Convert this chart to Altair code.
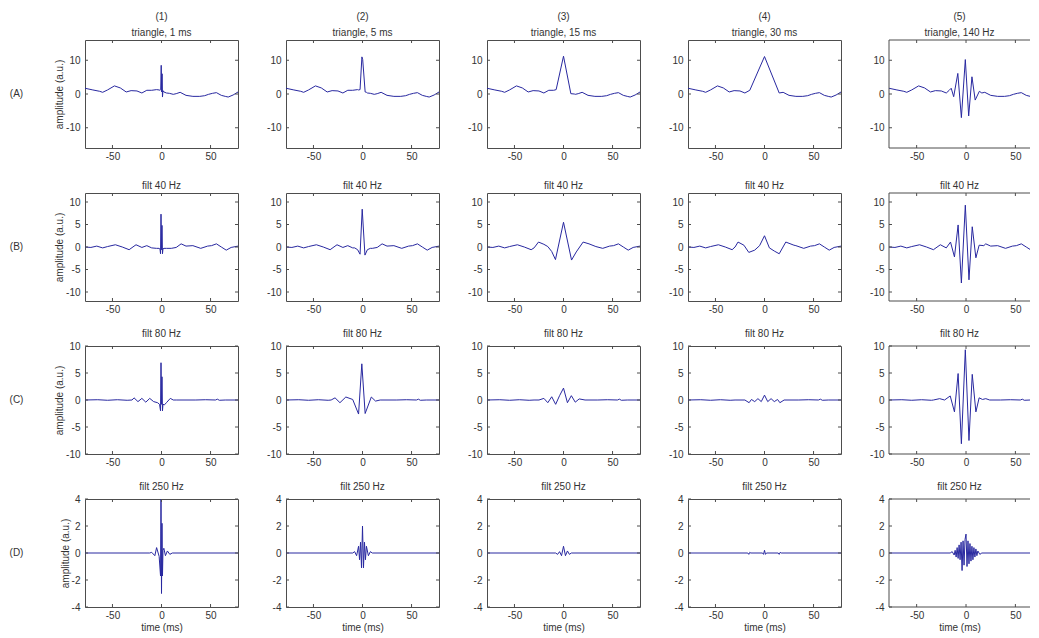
import altair as alt
import pandas as pd

# ---------------- text ----------------
ROW_NAMES = ["(A)", "(B)", "(C)", "(D)"]
COL_NAMES = ["(1)", "(2)", "(3)", "(4)", "(5)"]
ROW_A_TITLES = ["triangle, 1 ms", "triangle, 5 ms", "triangle, 15 ms", "triangle, 30 ms", "triangle, 140 Hz"]
ROW_TITLES = ["", "filt 40 Hz", "filt 80 Hz", "filt 250 Hz"]
Y_TITLE = "amplitude (a.u.)"
X_TITLE = "time (ms)"

# ---------------- axes ----------------
X_DOMAIN = [-78, 78]
X_DOMAIN_LAST = [-78, 64.8]   # last column is cut by the figure edge
X_TICKS = [-50, 0, 50]
Y_DOMAINS = [[-16, 16], [-12, 12], [-10, 10], [-4, 4]]
Y_TICKS = [[-10, 0, 10], [-10, -5, 0, 5, 10], [-10, -5, 0, 5, 10], [-4, -2, 0, 2, 4]]

# ---------------- row A: raw signal + triangle ----------------
BG_A_T = [-78, -70, -63, -60, -55, -48, -42, -36, -31, -25, -20, -15, -10, -5, 5, 8, 12, 15, 19, 25, 32, 39, 44, 48, 52, 56, 61, 65, 68, 73, 78]
BG_A_V = [1.7, 1.2, 0.8, 0.5, 1.2, 2.4, 1.8, 0.6, 1.0, 0.9, 0.3, 1.1, 1.1, 1.3, 0.3, 0.2, -0.1, 0.1, 0.5, -0.4, -0.7, -0.7, -0.5, -0.1, 0.2, 0.4, -0.4, -0.7, -0.9, -0.3, 0.6]
A1_T = [-2.5, -1.5, -0.8, -0.3, 0.2, 0.6, 1.0, 1.5, 2.5]
A1_V = [1.2, 1.1, 1.3, 8.5, 0.6, 6.0, -0.9, 1.0, 0.6]
A2_T = [-4, -2.5, -0.6, 0.2, 2.7, 4]
A2_V = [1.2, 1.3, 11.0, 10.2, 0.6, 0.5]
A3_T = [-7.5, 0, 7.5, 11]
A3_V = [1.3, 11.2, 0.1, 0.0]
A4_T = [-15, 0, 15]
A4_V = [1.1, 11.1, 0.3]
A5_T = [-17, -15, -12.5, -8.3, -4.7, -0.7, 2.7, 6.0, 9.3, 13.5, 16]
A5_V = [1.1, 1.7, -0.8, 6.1, -7.0, 10.2, -6.5, 5.1, -1.8, 0.8, 0.3]

# ---------------- row B: 40 Hz ----------------
BG_B_T = [-78, -72, -66, -60, -55, -47, -40, -33, -26, -20, -15, -10, -5, 5, 10, 15, 20, 25, 32, 40, 47, 51, 56, 61, 66, 71, 78]
BG_B_V = [0.0, -0.1, 0.2, -0.2, 0.1, 0.5, 0.0, -0.6, 0.5, -0.1, 0.3, -0.2, -0.3, -0.3, -0.3, -0.1, 0.7, 0.2, 0.3, -0.3, 0.2, 0.3, 0.7, 0.0, -0.7, -0.1, 0.2]
B1_T = [-2.5, -1.5, -1.0, -0.5, 0.0, 0.5, 1.0, 1.5, 2.5]
B1_V = [-0.3, -0.5, -1.5, 7.3, -0.6, 4.8, -1.5, -0.4, -0.3]
B2_T = [-8, -5, -2.5, -0.3, 2.5, 5, 8]
B2_V = [-0.2, -0.6, -1.6, 8.4, -1.8, -0.6, -0.3]
B3_T = [-30, -25.5, -20, -16, -12, -8.2, 0, 8.2, 13, 20, 26, 33]
B3_V = [-0.2, 1.1, 0.6, 0.1, -1.0, -2.8, 5.5, -2.9, -1.1, 1.1, 0.7, 0.1]
B4_T = [-30, -27, -21, -16, -10, -5, 0, 5, 10, 15, 21.7, 30]
B4_V = [0.0, 1.1, 0.4, -1.2, -0.7, 0.3, 2.5, -0.2, -0.9, -1.5, 1.1, 0.4]
B5_T = [-20, -15.7, -11.7, -8, -4.7, -0.7, 3, 6.3, 10, 13.3, 18]
B5_V = [-0.2, 1.1, -2.2, 4.9, -8.0, 9.3, -7.3, 4.5, -2.4, 0.4, 0.3]

# ---------------- row C: 80 Hz ----------------
BG_C_T = [-78, -65, -55, -45, -35, -30, 35, 45, 55, 57, 59, 65, 78]
BG_C_V = [0.0, 0.05, -0.05, 0.05, -0.05, 0.0, 0.0, 0.05, 0.0, 0.15, -0.05, 0.0, 0.0]
C1_T = [-30, -28, -24, -20, -16, -12, -8, -4, -2, -1, -0.5, 0, 0.5, 1, 1.5, 3, 5, 9, 12, 15]
C1_V = [0, 0.4, -0.3, 0.3, -0.4, 0.3, -0.3, -0.5, -0.8, -2.0, 6.9, -0.8, 4.3, -2.0, -0.8, -0.9, -0.5, 0.3, 0, 0]
C2_T = [-32, -28, -23, -17, -10, -4, -0.7, 2.7, 9, 13.3, 18]
C2_V = [0, 0.4, -0.5, 0.55, 0.1, -2.6, 6.7, -2.5, 0.55, -0.2, 0]
C3_T = [-25, -20, -16, -12, -8, -4, 0, 4, 8, 12, 16, 22]
C3_V = [0, 0.3, -0.5, 0.6, -0.8, 0.8, 2.2, -0.5, 0.8, -0.4, 0.2, 0]
C4_T = [-20, -15.7, -13.3, -10, -6.7, -3.3, 0, 3.3, 6.7, 10, 13.3, 15.7, 20]
C4_V = [0, -0.5, 0.1, -0.3, 0.25, -0.3, 0.9, -0.3, 0.25, -0.3, 0.1, -0.5, 0]
C5_T = [-33, -26.7, -21.7, -16, -11.7, -8, -4.7, -0.7, 3, 6.3, 10, 13.3, 16.7, 20, 24]
C5_V = [0, 0.25, 0, 0.75, -2.2, 4.9, -8.1, 9.3, -7.5, 4.75, -2.2, 0.4, 0.1, 0.25, 0]

# ---------------- row D: 250 Hz ----------------
BG_D_T = [-78, 78]
BG_D_V = [0.0, 0.0]
D1_T = [-12, -10, -6.8, -5, -3.4, -2.4, -1, -0.5, 0, 0.5, 1, 1.5, 2.4, 4, 6, 8.5, 11]
D1_V = [0, 0.05, -0.2, 0.4, 0, -0.25, -1.7, 4.0, -3.0, 2.2, -1.7, 0.2, 0.35, -0.2, 0.15, -0.1, 0]
D2_T = [-10, -8, -6, -4, -3, -2, -1, 0, 1, 2, 3, 4, 6, 8, 10]
D2_V = [0, 0.1, -0.2, 0.5, -0.5, 0.8, -1.1, 2.0, -1.1, 0.8, -0.5, 0.5, -0.2, 0.1, 0]
D3_T = [-8, -6, -4, -2, 0, 2, 4, 6, 8]
D3_V = [0, -0.1, 0.1, -0.2, 0.5, -0.2, 0.15, -0.1, 0]
D4_T = [-17, -16, -15, -14, -2, -1, 0, 1, 2, 14, 15, 16, 17]
D4_V = [0, -0.1, 0.05, 0, 0, -0.1, 0.2, -0.1, 0, 0, -0.1, 0.05, 0]
D5_T = [-16, -14, -12, -11, -10, -9, -8, -7, -6, -5, -4, -3, -2, -1, 0, 1, 2, 3, 4, 5, 6, 7, 8, 9, 10, 11, 12, 14, 16]
D5_V = [0, 0.1, -0.15, 0.2, -0.3, 0.4, -0.4, 0.6, -0.5, 0.8, -1.3, 0.9, -0.9, 1.0, 1.4, -1.0, 0.9, -0.8, 0.7, -0.6, 0.5, -0.5, 0.4, -0.3, 0.3, -0.2, 0.15, -0.1, 0]

BACKGROUNDS = [(BG_A_T, BG_A_V), (BG_B_T, BG_B_V), (BG_C_T, BG_C_V), (BG_D_T, BG_D_V)]
CENTERS = [
    [(A1_T, A1_V), (A2_T, A2_V), (A3_T, A3_V), (A4_T, A4_V), (A5_T, A5_V)],
    [(B1_T, B1_V), (B2_T, B2_V), (B3_T, B3_V), (B4_T, B4_V), (B5_T, B5_V)],
    [(C1_T, C1_V), (C2_T, C2_V), (C3_T, C3_V), (C4_T, C4_V), (C5_T, C5_V)],
    [(D1_T, D1_V), (D2_T, D2_V), (D3_T, D3_V), (D4_T, D4_V), (D5_T, D5_V)],
]

# ---------------- style ----------------
W, H = 153, 108
W_LAST = 141
FONT = "Liberation Sans"
TEXT = "#333333"
FRAME = "#4d4d4d"
LINE = "#2828a0"
TICK_LEN = 3
LABEL_EXPR = "datum.value + ''"   # plain hyphen minus, as in the figure


def trace(bg, center):
    bt, bv = bg
    ct, cv = center
    lo, hi = min(ct), max(ct)
    pts = [(t, v) for t, v in zip(bt, bv) if t < lo]
    pts += list(zip(ct, cv))
    pts += [(t, v) for t, v in zip(bt, bv) if t > hi]
    return pd.DataFrame(pts, columns=["t", "v"])


def panel(r, c):
    last = c == 4
    w = W_LAST if last else W
    df = trace(BACKGROUNDS[r], CENTERS[r][c])
    xs = alt.Scale(domain=X_DOMAIN_LAST if last else X_DOMAIN, nice=False, zero=False)
    ys = alt.Scale(domain=Y_DOMAINS[r], nice=False, zero=False)

    xax = dict(values=X_TICKS, labelExpr=LABEL_EXPR, title=X_TITLE if r == 3 else "")
    yax = dict(values=Y_TICKS[r], labelExpr=LABEL_EXPR, title=Y_TITLE if c == 0 else "")
    X = lambda: alt.X("t:Q", scale=xs, axis=alt.Axis(**xax))
    Y = lambda: alt.Y("v:Q", scale=ys, axis=alt.Axis(**yax))

    line = alt.Chart(df).mark_line(color=LINE, strokeWidth=1, clip=True).encode(
        x=X(), y=Y(), order="t:Q")
    xt = pd.DataFrame({"t": X_TICKS})
    yt = pd.DataFrame({"v": Y_TICKS[r]})
    one = pd.DataFrame({"k": [0]})
    rule = dict(color=FRAME, strokeWidth=1)
    layers = [line]
    layers.append(alt.Chart(xt).mark_rule(**rule).encode(
        x=X(), y=alt.value(H), y2=alt.value(H - TICK_LEN)))
    layers.append(alt.Chart(xt).mark_rule(**rule).encode(
        x=X(), y=alt.value(0), y2=alt.value(TICK_LEN)))
    layers.append(alt.Chart(yt).mark_rule(**rule).encode(
        y=Y(), x=alt.value(0), x2=alt.value(TICK_LEN)))
    if not last:
        layers.append(alt.Chart(yt).mark_rule(**rule).encode(
            y=Y(), x=alt.value(w), x2=alt.value(w - TICK_LEN)))
    else:
        # frame drawn by hand: the right edge lies outside the figure
        layers.append(alt.Chart(one).mark_rule(**rule).encode(
            x=alt.value(0), x2=alt.value(w), y=alt.value(0)))
        layers.append(alt.Chart(one).mark_rule(**rule).encode(
            x=alt.value(0), x2=alt.value(w), y=alt.value(H)))
        layers.append(alt.Chart(one).mark_rule(**rule).encode(
            x=alt.value(0), y=alt.value(0), y2=alt.value(H)))
    if c == 0:
        layers.append(alt.Chart(pd.DataFrame({"lab": [ROW_NAMES[r]]})).mark_text(
            font=FONT, fontSize=10, color=TEXT, align="center", baseline="middle"
        ).encode(x=alt.value(-68.5), y=alt.value(H / 2), text="lab:N"))

    if r == 0:
        ttext = [COL_NAMES[c], ROW_A_TITLES[c]]
    else:
        ttext = ROW_TITLES[r]
    title = alt.TitleParams(text=ttext, font=FONT, fontSize=10, fontWeight="normal",
                            color=TEXT, anchor="middle", offset=2, lineHeight=16)
    props = dict(width=w, height=H, title=title)
    if last:
        props["view"] = alt.ViewBackground(strokeWidth=0, strokeOpacity=0)
    return alt.layer(*layers).properties(**props)


panels = [panel(r, c) for r in range(4) for c in range(5)]

chart = alt.concat(*panels, columns=5, spacing={"row": 45, "column": 48},
                   bounds="flush", align="each").properties(
    padding={"left": 1, "top": 3, "right": 0, "bottom": 0},
    background="white",
).configure_view(stroke=FRAME, strokeWidth=1).configure_axis(
    domain=False, ticks=False, tickSize=0, grid=False,
    labelFont=FONT, labelFontSize=10, labelColor=TEXT,
    titleFont=FONT, titleFontSize=10, titleFontWeight="normal", titleColor=TEXT,
).configure_axisX(labelPadding=3, titlePadding=2).configure_axisY(labelPadding=5, titlePadding=1)

chart.save("out.html", embed_options={"renderer": "svg", "actions": False})
